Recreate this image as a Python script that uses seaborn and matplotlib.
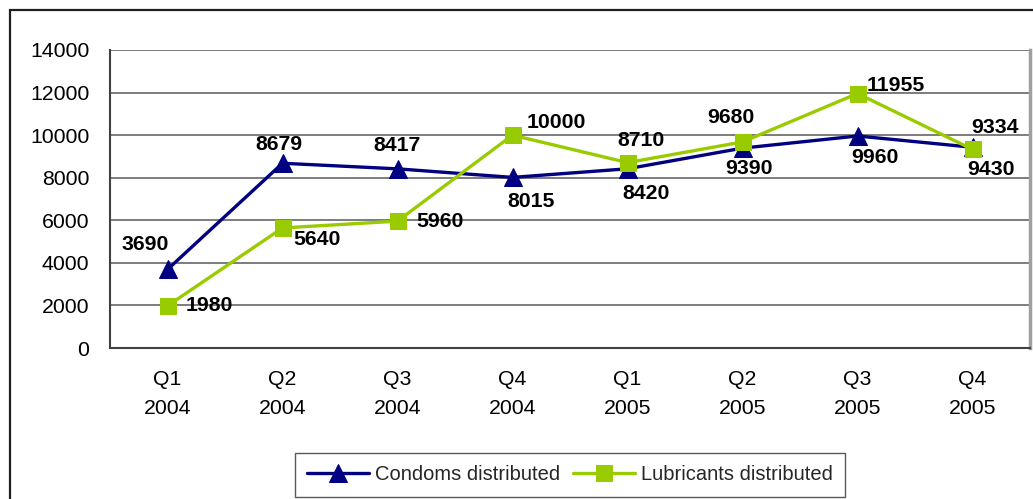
import numpy as np
import pandas as pd
import seaborn as sns
import matplotlib
matplotlib.use('Agg')
import matplotlib.pyplot as plt
from matplotlib.patches import Rectangle

# Chart data
quarters = ["Q1\n2004", "Q2\n2004", "Q3\n2004", "Q4\n2004",
            "Q1\n2005", "Q2\n2005", "Q3\n2005", "Q4\n2005"]
condoms = [3690, 8679, 8417, 8015, 8420, 9390, 9960, 9430]
lubricants = [1980, 5640, 5960, 10000, 8710, 9680, 11955, 9334]

# label offsets in pixels (dx, dy) from each point
condom_offsets = [(-22, 25), (-4, 19), (0, 23), (19, -24), (19, -25), (6, -20), (17, -22), (18, -22)]
lube_offsets = [(42, 0), (34, -12), (42, 0), (44, 13), (13, 22), (-12, 24), (38, 8), (22, 22)]

sns.set_style("white")
plt.rcParams['font.family'] = ['Liberation Sans', 'DejaVu Sans']

W, H = 1033, 499
fig = plt.figure(figsize=(W / 100, H / 100), dpi=100)
ax = fig.add_axes([110 / W, (H - 348) / H, 920 / W, 298 / H])

pos = np.arange(len(quarters))
df = pd.DataFrame({"pos": pos, "condoms": condoms, "lubricants": lubricants})

sns.lineplot(data=df, x="pos", y="condoms", ax=ax, color="#000080", lw=2.4,
             marker="^", markersize=13, markeredgecolor="#000080",
             label="Condoms distributed", zorder=3)
sns.lineplot(data=df, x="pos", y="lubricants", ax=ax, color="#99CC00", lw=2.4,
             marker="s", markersize=11.5, markeredgecolor="#99CC00",
             label="Lubricants distributed", zorder=4)

fs = 15.3
for i, (v, off) in enumerate(zip(condoms, condom_offsets)):
    ax.annotate(str(v), (i, v), xytext=off, textcoords="offset pixels", color="black",
                ha="center", va="center", fontsize=fs, fontweight="bold", zorder=5)
for i, (v, off) in enumerate(zip(lubricants, lube_offsets)):
    ax.annotate(str(v), (i, v), xytext=off, textcoords="offset pixels", color="black",
                ha="center", va="center", fontsize=fs, fontweight="bold", zorder=5)

ax.set_xlim(-0.5, len(quarters) - 0.5)
ax.set_ylim(0, 14000)
ax.set_yticks(np.arange(0, 14001, 2000))
ax.yaxis.grid(True, color="#666666", lw=1.2)
ax.set_axisbelow(True)

# category ticks at boundaries, labels centered
ax.set_xticks(np.arange(-0.5, len(quarters), 1.0))
ax.set_xticklabels([])
ax.set_xticks(pos, minor=True)
ax.set_xticklabels(quarters, minor=True, fontsize=fs, linespacing=1.65)
ax.tick_params(axis="x", which="major", length=6, width=1.2, color="#404040", direction="out")
ax.tick_params(axis="x", which="minor", length=0, pad=16, labelcolor="black")
ax.tick_params(axis="y", length=6, width=1.2, color="#404040", direction="out",
               labelsize=fs, pad=9, labelcolor="black")
ax.set_xlabel("")
ax.set_ylabel("")

for s in ["left", "bottom"]:
    ax.spines[s].set_color("#404040")
    ax.spines[s].set_linewidth(1.5)
ax.spines["top"].set_visible(False)
ax.spines["right"].set_color("#A0A0A0")
ax.spines["right"].set_linewidth(2.5)

ax.get_legend().remove()
handles, labels = ax.get_legend_handles_labels()
leg = fig.legend(handles, labels, loc="center", bbox_to_anchor=(570 / W, (H - 475) / H),
                 ncol=2, fontsize=14.5, frameon=True, fancybox=False, handlelength=3.1,
                 handletextpad=0.3, columnspacing=0.6, borderpad=0.6, borderaxespad=0)
leg.get_frame().set_edgecolor("#303030")
leg.get_frame().set_linewidth(1.0)

# outer chart border
fig.patches.append(Rectangle((10 / W, -0.2), 1.2, (H - 10) / H + 0.2, transform=fig.transFigure,
                             fill=False, edgecolor="#202020", lw=1.6))

fig.savefig("out.png", dpi=100)
